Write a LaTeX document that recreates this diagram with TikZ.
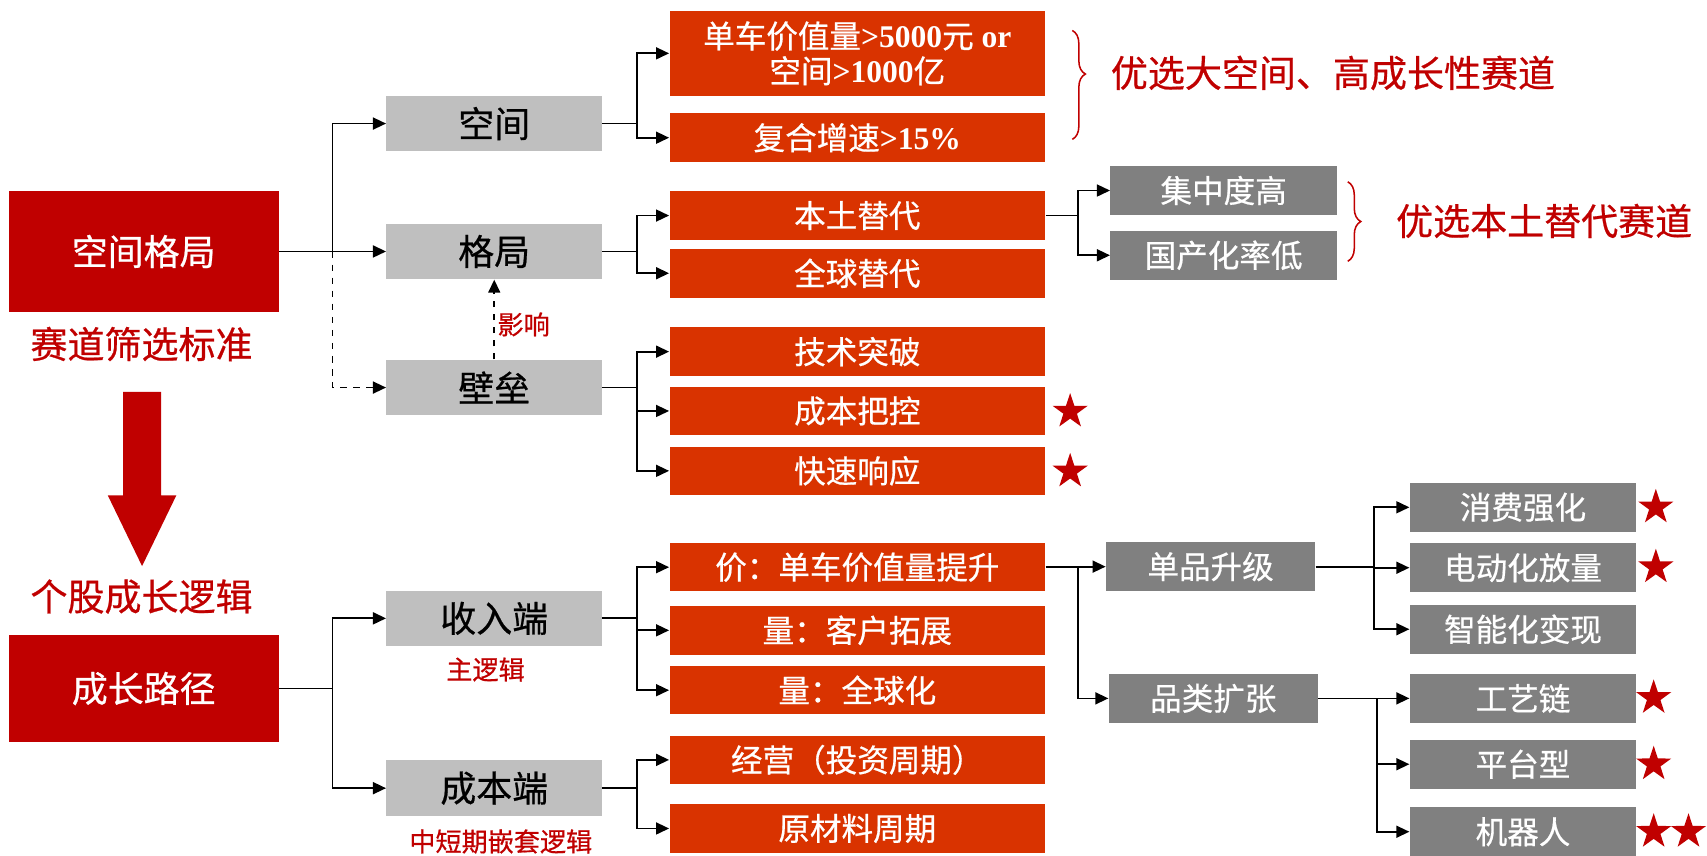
\documentclass[tikz,border=0pt]{standalone}
\usepackage{fontspec}
\setmainfont{Liberation Serif}
\newfontfamily\cjk[FakeBold=0.6]{Noto Sans CJK SC}
\usetikzlibrary{arrows.meta,shapes.geometric,decorations.pathreplacing}
\definecolor{darkred}{HTML}{C00000}
\definecolor{orng}{HTML}{D93300}
\definecolor{lgrey}{HTML}{BFBFBF}
\definecolor{dgrey}{HTML}{808080}
\tikzset{
  x=0.5pt, y=-0.5pt,
  mainbox/.style={fill=darkred, text=white, inner sep=0pt, minimum width=124pt,
    font=\cjk\fontsize{16.5}{20}\selectfont},
  lonebox/.style={fill=lgrey, text=black, inner sep=0pt, minimum width=99pt, minimum height=25.5pt,
    font=\cjk\fontsize{16.5}{20}\selectfont},
  obox/.style={fill=orng, text=white, inner sep=0pt, minimum width=172.5pt, minimum height=22.3pt,
    font=\cjk\fontsize{14.5}{17}\selectfont, align=center},
  gbox/.style={fill=dgrey, text=white, inner sep=0pt, minimum height=22.5pt,
    font=\cjk\fontsize{14.5}{17}\selectfont},
  redlbl/.style={text=darkred, inner sep=0pt, font=\cjk\fontsize{17}{20}\selectfont},
  smlbl/.style={text=darkred, inner sep=0pt, font=\cjk\fontsize{12}{14}\selectfont},
  conn/.style={draw=black, line width=0.8pt, -{Triangle[length=6pt,width=5.5pt]}},
  seg/.style={draw=black, line width=0.8pt},
  redstar/.style={star, star points=5, star point ratio=2.6, fill=darkred, draw=none,
    inner sep=0pt, minimum size=17pt},
  brc/.style={draw=darkred, line width=0.7pt, decorate},
}
\newcommand{\lat}[1]{{\rmfamily\bfseries #1}}
\begin{document}
\begin{tikzpicture}
\useasboundingbox (0,0) rectangle (1568,786);

% level 0
\node[mainbox, minimum height=55.5pt] (kjgj) at (132,231) {空间格局};
\node[mainbox, minimum height=49.5pt] (czlj) at (132,632.5) {成长路径};
\node[redlbl] (sdsx) at (130,316) {赛道筛选标准};
\node[redlbl] (gglj) at (130,548) {个股成长逻辑};
\fill[darkred] (113,360) -- (148,360) -- (148,455) -- (162,455) -- (130.5,520)
  -- (99,455) -- (113,455) -- cycle;

% level 1
\node[lonebox] (kj) at (454,113.5) {空间};
\node[lonebox] (gj) at (454,231) {格局};
\node[lonebox] (bl) at (454,356) {壁垒};
\node[lonebox] (srd) at (454,568) {收入端};
\node[lonebox] (cbd) at (454,724) {成本端};
\node[smlbl] (yx) at (481,298) {影响};
\node[smlbl] (zlj) at (446,615) {主逻辑};
\node[smlbl] (dqlj) at (460,773) {中短期嵌套逻辑};

% level 2 (orange)
\node[obox, minimum height=39pt] (o1) at (787.5,49)
  {单车价值量\lat{>5000}元\lat{\ or}\\[-1pt]空间\lat{>1000}亿};
\node[obox] (o2) at (787.5,126.5) {复合增速\lat{>15\%}};
\node[obox] (o3) at (787.5,198) {本土替代};
\node[obox] (o4) at (787.5,251) {全球替代};
\node[obox] (o5) at (787.5,323) {技术突破};
\node[obox] (o6) at (787.5,377.5) {成本把控};
\node[obox] (o7) at (787.5,432.5) {快速响应};
\node[obox] (o8) at (787.5,521) {价：单车价值量提升};
\node[obox] (o9) at (787.5,579) {量：客户拓展};
\node[obox] (o10) at (787.5,634) {量：全球化};
\node[obox] (o11) at (787.5,698) {经营（投资周期）};
\node[obox] (o12) at (787.5,761) {原材料周期};
\node[redstar] (s1) at (983,378) {};
\node[redstar] (s2) at (983,433) {};

% level 3
\node[gbox, minimum width=104pt] (jzd) at (1124,175) {集中度高};
\node[gbox, minimum width=104pt] (gch) at (1124,234.5) {国产化率低};
\node[gbox, minimum width=96pt] (dpsj) at (1112,520.5) {单品升级};
\node[gbox, minimum width=96pt] (plkz) at (1114.5,641.5) {品类扩张};

% level 4
\node[gbox, minimum width=104pt] (r1) at (1399,466) {消费强化};
\node[gbox, minimum width=104pt] (r2) at (1399,521.5) {电动化放量};
\node[gbox, minimum width=104pt] (r3) at (1399,578) {智能化变现};
\node[gbox, minimum width=104pt] (r4) at (1399,641.5) {工艺链};
\node[gbox, minimum width=104pt] (r5) at (1399,702) {平台型};
\node[gbox, minimum width=104pt] (r6) at (1399,764) {机器人};
\node[redstar] (s3) at (1521,466) {};
\node[redstar] (s4) at (1521,521) {};
\node[redstar] (s5) at (1519,641) {};
\node[redstar] (s6) at (1519,702) {};
\node[redstar] (s7) at (1519,764) {};
\node[redstar] (s8) at (1551,764) {};

% braces and notes
\coordinate (b1a) at (985,28);
\coordinate (b1b) at (985,128);
\draw[brc, decoration={brace, amplitude=6pt, aspect=0.4}] (b1a) -- (b1b);
\node[redlbl, anchor=west] (note1) at (1020,67) {优选大空间、高成长性赛道};
\coordinate (b2a) at (1238,167);
\coordinate (b2b) at (1238,240);
\draw[brc, decoration={brace, amplitude=6pt, aspect=0.5}] (b2a) -- (b2b);
\node[redlbl, anchor=west] (note2) at (1282,203) {优选本土替代赛道};

% connectors level 0 -> 1
\path (kjgj.east) ++(49,0) coordinate (j0);
\draw[conn] (kjgj.east) -- (gj.west);
\draw[conn] (j0) |- (kj.west);
\draw[conn, dashed] (j0) |- (bl.west);
\draw[conn, dashed] (bl.north) -- (gj.south);
\path (czlj.east) ++(49,0) coordinate (j1);
\draw[seg] (czlj.east) -- (j1);
\draw[conn] (j1) |- (srd.west);
\draw[conn] (j1) |- (cbd.west);

% level 1 -> 2
\path (kj.east) ++(32,0) coordinate (j2);
\draw[seg] (kj.east) -- (j2);
\draw[conn] (j2) |- (o1.west);
\draw[conn] (j2) |- (o2.west);
\path (gj.east) ++(32,0) coordinate (j3);
\draw[seg] (gj.east) -- (j3);
\draw[conn] (j3) |- (o3.west);
\draw[conn] (j3) |- (o4.west);
\path (bl.east) ++(32,0) coordinate (j4);
\draw[seg] (bl.east) -- (j4);
\draw[conn] (j4) |- (o5.west);
\draw[conn] (j4) |- (o6.west);
\draw[conn] (j4) |- (o7.west);
\path (srd.east) ++(32,0) coordinate (j5);
\draw[seg] (srd.east) -- (j5);
\draw[conn] (j5) |- (o8.west);
\draw[conn] (j5) |- (o9.west);
\draw[conn] (j5) |- (o10.west);
\path (cbd.east) ++(32,0) coordinate (j6);
\draw[seg] (cbd.east) -- (j6);
\draw[conn] (j6) |- (o11.west);
\draw[conn] (j6) |- (o12.west);

% level 2 -> 3
\path (o3.east) ++(30,0) coordinate (j7);
\draw[seg] (o3.east) -- (j7);
\draw[conn] (j7) |- (jzd.west);
\draw[conn] (j7) |- (gch.west);
\path (o8.east) ++(30,0) coordinate (j8);
\draw[seg] (o8.east) -- (j8);
\draw[conn] (j8) |- (dpsj.west);
\draw[conn] (j8) |- (plkz.west);

% level 3 -> 4
\path (dpsj.east) ++(54,0) coordinate (j9);
\draw[seg] (dpsj.east) -- (j9);
\draw[conn] (j9) |- (r1.west);
\draw[conn] (j9) |- (r2.west);
\draw[conn] (j9) |- (r3.west);
\path (plkz.east) ++(54,0) coordinate (j10);
\draw[seg] (plkz.east) -- (j10);
\draw[conn] (j10) |- (r4.west);
\draw[conn] (j10) |- (r5.west);
\draw[conn] (j10) |- (r6.west);
\end{tikzpicture}
\end{document}
